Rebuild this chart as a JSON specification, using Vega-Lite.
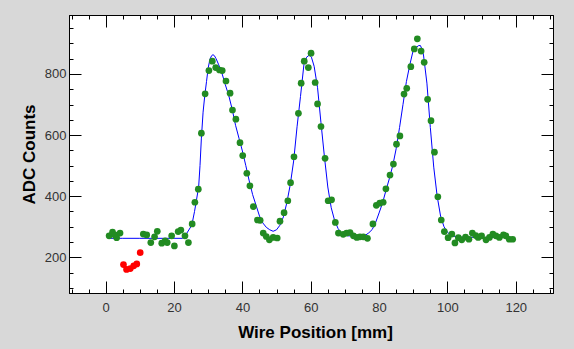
{
  "$schema": "https://vega.github.io/schema/vega-lite/v6.json",
  "width": 484,
  "height": 278,
  "autosize": {"type": "none"},
  "padding": {"left": 69, "top": 15, "right": 21, "bottom": 56},
  "background": "#d8d8d8",
  "view": {"fill": "#ffffff", "stroke": "#000000", "strokeWidth": 1},
  "config": {
    "axis": {
      "grid": false,
      "domainColor": "#000000",
      "domainWidth": 1,
      "tickColor": "#000000",
      "tickWidth": 1,
      "labelFont": "Liberation Sans",
      "labelFontSize": 13,
      "labelColor": "#333333",
      "titleFont": "Liberation Sans",
      "titleFontSize": 17,
      "titleFontWeight": "bold",
      "titleColor": "#000000"
    }
  },
  "datasets": {
    "fit": [
      {"x": 1, "v": 262}, {"x": 5, "v": 262}, {"x": 10, "v": 262}, {"x": 15, "v": 262}, {"x": 20, "v": 262},
      {"x": 22.5, "v": 262}, {"x": 23.7, "v": 278}, {"x": 25.2, "v": 305}, {"x": 26, "v": 350}, {"x": 26.6, "v": 390},
      {"x": 27.2, "v": 430}, {"x": 27.6, "v": 500}, {"x": 28, "v": 590}, {"x": 28.5, "v": 675}, {"x": 29, "v": 730},
      {"x": 29.5, "v": 775}, {"x": 30, "v": 820}, {"x": 30.5, "v": 848}, {"x": 31, "v": 860}, {"x": 31.4, "v": 863},
      {"x": 31.8, "v": 860}, {"x": 32.3, "v": 850}, {"x": 33, "v": 832}, {"x": 34, "v": 803}, {"x": 35, "v": 765},
      {"x": 36, "v": 730}, {"x": 37, "v": 685}, {"x": 38, "v": 632}, {"x": 39, "v": 590}, {"x": 40, "v": 548},
      {"x": 41, "v": 500}, {"x": 42, "v": 450}, {"x": 43, "v": 405}, {"x": 44, "v": 370}, {"x": 45, "v": 335},
      {"x": 46, "v": 312}, {"x": 47, "v": 298}, {"x": 48, "v": 290}, {"x": 49, "v": 285}, {"x": 50, "v": 290},
      {"x": 51, "v": 305}, {"x": 52, "v": 332}, {"x": 53, "v": 378}, {"x": 54, "v": 437}, {"x": 55, "v": 515},
      {"x": 56, "v": 627}, {"x": 57, "v": 726}, {"x": 58, "v": 830}, {"x": 58.8, "v": 855}, {"x": 59.6, "v": 862},
      {"x": 60.2, "v": 855}, {"x": 61, "v": 825}, {"x": 62, "v": 755}, {"x": 63, "v": 640}, {"x": 64, "v": 530},
      {"x": 65, "v": 430}, {"x": 66, "v": 362}, {"x": 67, "v": 320}, {"x": 68, "v": 294}, {"x": 69, "v": 280},
      {"x": 70, "v": 272}, {"x": 71, "v": 270}, {"x": 75, "v": 270}, {"x": 76, "v": 272}, {"x": 77, "v": 280},
      {"x": 78, "v": 291}, {"x": 79, "v": 314}, {"x": 80, "v": 345}, {"x": 81, "v": 377}, {"x": 82, "v": 418},
      {"x": 83, "v": 457}, {"x": 84, "v": 500}, {"x": 85, "v": 555}, {"x": 86, "v": 625}, {"x": 87, "v": 700},
      {"x": 88, "v": 775}, {"x": 89, "v": 830}, {"x": 90, "v": 878}, {"x": 91, "v": 888}, {"x": 91.6, "v": 893},
      {"x": 92.1, "v": 893}, {"x": 92.6, "v": 880}, {"x": 93, "v": 862}, {"x": 94, "v": 770}, {"x": 95, "v": 625},
      {"x": 96, "v": 495}, {"x": 97, "v": 400}, {"x": 98, "v": 335}, {"x": 99, "v": 300}, {"x": 100, "v": 282},
      {"x": 101, "v": 272}, {"x": 102, "v": 268}, {"x": 103, "v": 266}, {"x": 110, "v": 265}, {"x": 119, "v": 265}
    ],
    "green": [
      {"x": 1.0, "v": 270}, {"x": 2.0, "v": 282}, {"x": 2.7, "v": 273}, {"x": 3.2, "v": 264}, {"x": 4.2, "v": 279},
      {"x": 11.0, "v": 276}, {"x": 12.0, "v": 273}, {"x": 13.2, "v": 248}, {"x": 14.3, "v": 267}, {"x": 15.1, "v": 285},
      {"x": 16.4, "v": 246}, {"x": 17.4, "v": 254}, {"x": 18.0, "v": 248}, {"x": 19.3, "v": 270}, {"x": 20.1, "v": 237},
      {"x": 21.2, "v": 284}, {"x": 22.0, "v": 289}, {"x": 23.2, "v": 270}, {"x": 24.2, "v": 248}, {"x": 25.3, "v": 309},
      {"x": 26.1, "v": 380}, {"x": 27.1, "v": 423}, {"x": 28.0, "v": 606}, {"x": 29.1, "v": 735}, {"x": 30.2, "v": 811},
      {"x": 31.2, "v": 842}, {"x": 32.2, "v": 821}, {"x": 33.3, "v": 813}, {"x": 34.1, "v": 811}, {"x": 35.2, "v": 777},
      {"x": 36.4, "v": 737}, {"x": 37.1, "v": 682}, {"x": 38.1, "v": 652}, {"x": 39.3, "v": 575}, {"x": 40.1, "v": 533},
      {"x": 41.3, "v": 475}, {"x": 42.2, "v": 434}, {"x": 43.2, "v": 366}, {"x": 44.4, "v": 322}, {"x": 45.2, "v": 321},
      {"x": 46.1, "v": 279}, {"x": 47.0, "v": 268}, {"x": 47.9, "v": 257}, {"x": 49.0, "v": 265}, {"x": 50.2, "v": 263},
      {"x": 51.0, "v": 318}, {"x": 52.2, "v": 346}, {"x": 53.3, "v": 385}, {"x": 54.1, "v": 444}, {"x": 55.1, "v": 529},
      {"x": 56.4, "v": 671}, {"x": 57.2, "v": 770}, {"x": 58.1, "v": 842}, {"x": 59.3, "v": 821}, {"x": 60.1, "v": 868},
      {"x": 61.3, "v": 772}, {"x": 62.0, "v": 702}, {"x": 63.0, "v": 628}, {"x": 64.2, "v": 524}, {"x": 65.1, "v": 385},
      {"x": 66.1, "v": 388}, {"x": 67.2, "v": 314}, {"x": 68.1, "v": 279}, {"x": 69.5, "v": 275}, {"x": 70.5, "v": 279},
      {"x": 71.5, "v": 281}, {"x": 72.5, "v": 270}, {"x": 73.5, "v": 265}, {"x": 74.4, "v": 267}, {"x": 75.4, "v": 267},
      {"x": 76.6, "v": 262}, {"x": 78.2, "v": 309}, {"x": 79.2, "v": 370}, {"x": 80.2, "v": 377}, {"x": 81.2, "v": 380},
      {"x": 82.0, "v": 424}, {"x": 83.2, "v": 469}, {"x": 84.2, "v": 505}, {"x": 85.1, "v": 570}, {"x": 86.1, "v": 597},
      {"x": 87.3, "v": 734}, {"x": 88.1, "v": 753}, {"x": 89.3, "v": 824}, {"x": 90.3, "v": 882}, {"x": 91.2, "v": 915},
      {"x": 92.3, "v": 875}, {"x": 93.2, "v": 838}, {"x": 94.2, "v": 717}, {"x": 95.2, "v": 647}, {"x": 96.2, "v": 544},
      {"x": 97.2, "v": 398}, {"x": 98.2, "v": 322}, {"x": 99.1, "v": 284}, {"x": 100.2, "v": 264}, {"x": 101.3, "v": 276},
      {"x": 102.2, "v": 247}, {"x": 103.2, "v": 264}, {"x": 104.2, "v": 257}, {"x": 105.3, "v": 266}, {"x": 106.3, "v": 259},
      {"x": 107.3, "v": 279}, {"x": 108.3, "v": 271}, {"x": 109.0, "v": 265}, {"x": 110.0, "v": 270}, {"x": 111.3, "v": 257},
      {"x": 112.3, "v": 265}, {"x": 113.3, "v": 276}, {"x": 114.2, "v": 270}, {"x": 115.2, "v": 265}, {"x": 116.4, "v": 273},
      {"x": 117.1, "v": 270}, {"x": 118.1, "v": 259}, {"x": 119.1, "v": 259}
    ],
    "red": [
      {"x": 5.2, "v": 176}, {"x": 6.1, "v": 160}, {"x": 7.2, "v": 163}, {"x": 8.2, "v": 172}, {"x": 9.1, "v": 178}, {"x": 10.1, "v": 215}
    ]
  },
  "layer": [
    {
      "data": {"name": "green"},
      "mark": {"type": "point", "opacity": 0},
      "encoding": {
        "x": {"field": "x", "type": "quantitative", "scale": {"domain": [-10.74, 130.9], "nice": false, "zero": false},
              "axis": {"orient": "top", "values": [-10,-5,5,10,15,25,30,35,45,50,55,65,70,75,85,90,95,105,110,115,125,130], "tickSize": -4, "labels": false, "domain": false, "title": null}},
        "y": {"field": "v", "type": "quantitative", "scale": {"domain": [83, 993], "nice": false, "zero": false},
              "axis": {"orient": "right", "values": [100,150,250,300,350,450,500,550,650,700,750,850,900,950], "tickSize": -4, "labels": false, "domain": false, "title": null}}
      }
    },
    {
      "data": {"name": "fit"},
      "mark": {"type": "line", "color": "#0000ff", "strokeWidth": 1},
      "encoding": {
        "x": {"field": "x", "type": "quantitative",
              "axis": {"orient": "bottom", "values": [0,20,40,60,80,100,120], "tickSize": -12, "labelPadding": 20, "title": "Wire Position [mm]", "titleX": 246, "titleY": 44, "titleBaseline": "alphabetic"}},
        "y": {"field": "v", "type": "quantitative",
              "axis": {"orient": "left", "values": [200,400,600,800], "tickSize": -12, "labelPadding": 15, "title": "ADC Counts", "titleX": -35, "titleBaseline": "alphabetic"}}
      }
    },
    {
      "data": {"name": "green"},
      "mark": {"type": "circle", "color": "#228b22", "size": 45, "opacity": 1},
      "encoding": {
        "x": {"field": "x", "type": "quantitative",
              "axis": {"orient": "bottom", "values": [-10,-5,5,10,15,25,30,35,45,50,55,65,70,75,85,90,95,105,110,115,125,130], "tickSize": -4, "labels": false, "domain": false, "title": null}},
        "y": {"field": "v", "type": "quantitative",
              "axis": {"orient": "left", "values": [100,150,250,300,350,450,500,550,650,700,750,850,900,950], "tickSize": -4, "labels": false, "domain": false, "title": null}}
      }
    },
    {
      "data": {"name": "red"},
      "mark": {"type": "circle", "color": "#ff0000", "size": 45, "opacity": 1},
      "encoding": {
        "x": {"field": "x", "type": "quantitative",
              "axis": {"orient": "top", "values": [0,20,40,60,80,100,120], "tickSize": -12, "labels": false, "title": null}},
        "y": {"field": "v", "type": "quantitative",
              "axis": {"orient": "right", "values": [200,400,600,800], "tickSize": -12, "labels": false, "title": null}}
      }
    }
  ],
  "resolve": {"axis": {"x": "independent", "y": "independent"}}
}
